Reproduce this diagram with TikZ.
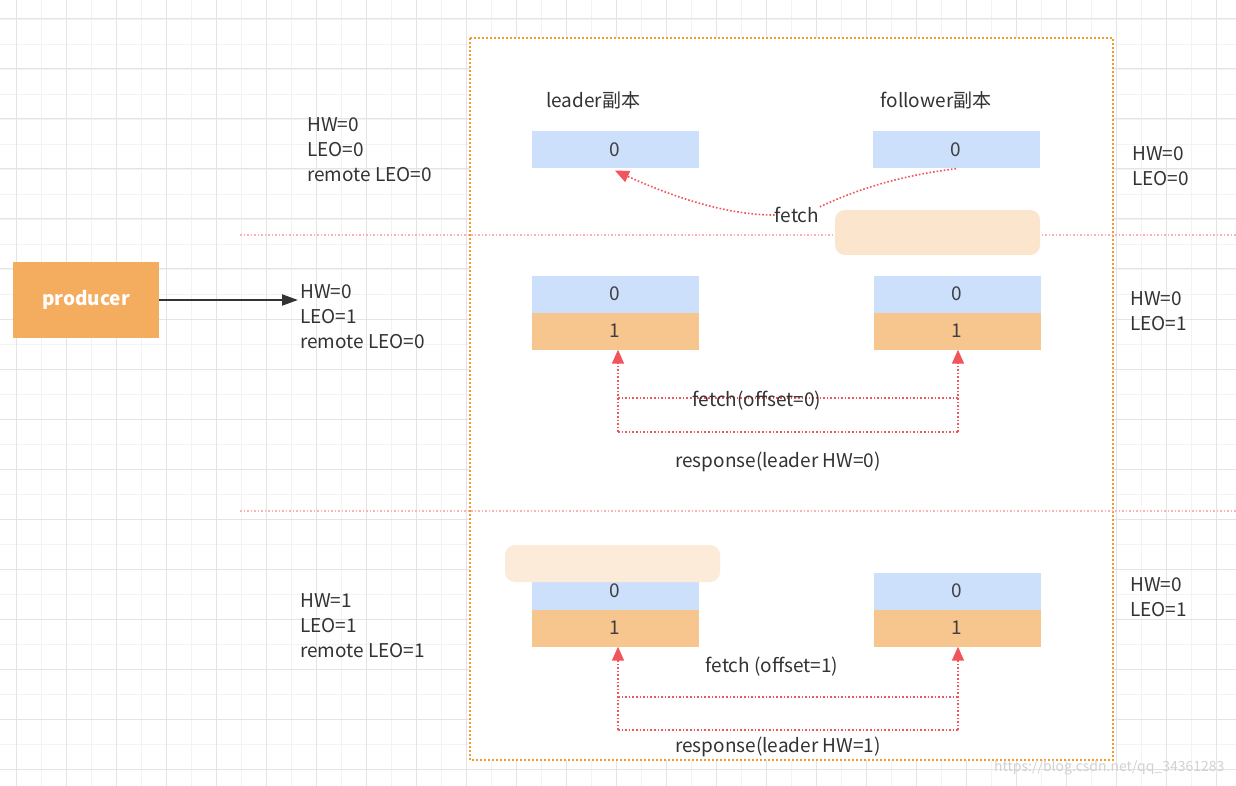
\documentclass[tikz,border=0pt]{standalone}
\usepackage{fontspec}
\setmainfont{Noto Sans CJK SC}
\usetikzlibrary{positioning, arrows.meta, calc}
\definecolor{cellblue}{HTML}{CCE0FB}
\definecolor{cellorange}{HTML}{F7C68F}
\definecolor{prodorange}{HTML}{F4AC5F}
\definecolor{linkred}{HTML}{F2545B}
\definecolor{boxorange}{HTML}{F39A2B}
\definecolor{gridgray}{HTML}{E4E4E4}
\tikzset{
  Link/.style = {linkred, line width=1.6pt, dotted, -{Triangle[length=14pt, width=12pt]}},
  Plain/.style = {linkred, line width=1.6pt, dotted},
  txt/.style = {font=\fontsize{19}{25}\selectfont, text=black!80, inner sep=0pt, anchor=west, align=left},
}
\begin{document}
\begin{tikzpicture}[x=1pt, y=-1pt,
    cell/.style = {minimum width=167pt, minimum height=37pt, inner sep=0pt, font=\fontsize{19}{19}\selectfont, text=black!75},
    blue cell/.style = {cell, fill=cellblue},
    orange cell/.style = {cell, fill=cellorange},
  ]
  \useasboundingbox (0,0) rectangle (1236,786);
  % background grid
  \foreach \x in {16,41,...,1236} \draw[gridgray!45, line width=0.6pt] (\x,0) -- (\x,786);
  \foreach \y in {19,44,...,786} \draw[gridgray!45, line width=0.6pt] (0,\y) -- (1236,\y);
  \foreach \x in {16,66,...,1236} \draw[gridgray, line width=1pt] (\x,0) -- (\x,786);
  \foreach \y in {19,69,...,786} \draw[gridgray, line width=1pt] (0,\y) -- (1236,\y);
  \fill[white] (470,38) rectangle (1113,760);
  \draw[boxorange, line width=2pt, dotted] (470,38) rectangle (1113,760);
  % separators
  \draw[linkred!45, line width=1.5pt, dotted] (240,235) -- (1236,235);
  \draw[linkred!45, line width=1.5pt, dotted] (240,511) -- (1236,511);

  % producer
  \node[fill=prodorange, minimum width=146pt, minimum height=76pt, text=white, font=\fontsize{19}{19}\selectfont\bfseries] (producer) at (86,300) {producer};
  \coordinate (hw2) at (298,300);
  \draw[black!80, line width=2pt, -{Triangle[length=16pt, width=11pt]}] (producer) -- (hw2);

  % titles
  \node[txt, anchor=center] (leadtitle) at (593,100) {leader副本};
  \node[txt, anchor=center] (followtitle) at (936,100) {follower副本};

  % replica cells
  \node[blue cell] (l1) at (615,150) {0};
  \node[blue cell] (f1) at (956,150) {0};
  \node[blue cell] (l2a) at (615,294) {0};
  \node[orange cell] (l2b) at (615,331) {1};
  \node[blue cell] (f2a) at (957,294) {0};
  \node[orange cell] (f2b) at (957,331) {1};
  \node[blue cell] (l3a) at (615,591) {0};
  \node[orange cell] (l3b) at (615,628) {1};
  \node[blue cell] (f3a) at (957,591) {0};
  \node[orange cell] (f3b) at (957,628) {1};

  % blurred patches
  \fill[cellorange!45, rounded corners=10pt] (835,210) rectangle (1040,255);
  \fill[cellorange!35, rounded corners=10pt] (505,545) rectangle (720,582);

  % state labels
  \node[txt] (s1) at (307,150) {HW=0\\LEO=0\\remote LEO=0};
  \node[txt] (s2) at (300,317) {HW=0\\LEO=1\\remote LEO=0};
  \node[txt] (s3) at (300,626) {HW=1\\LEO=1\\remote LEO=1};
  \node[txt] (r1) at (1132,166) {HW=0\\LEO=0};
  \node[txt] (r2) at (1130,311) {HW=0\\LEO=1};
  \node[txt] (r3) at (1130,597) {HW=0\\LEO=1};

  % first fetch
  \node[txt, anchor=center] (fetch1) at (797,215) {fetch};
  \draw[Plain] (f1.south) .. controls (880,178) and (835,200) .. (fetch1.north east);
  \draw[Link] (fetch1.west) .. controls (730,215) and (680,200) .. ($(l1.south)+(0,2)$);

  % second round
  \coordinate (a2l) at (618,432);
  \coordinate (a2r) at (958,432);
  \draw[Link] (a2l) -- (l2b.south -| a2l);
  \draw[Link] (a2r) -- (f2b.south -| a2r);
  \draw[Plain] (a2l |- 0,398) -- (a2r |- 0,398);
  \draw[Plain] (a2l) -- (a2r);
  \node[txt, anchor=center] (fetch2) at (757,401) {fetch(offset=0)};
  \node[txt, anchor=center] (resp2) at (778,462) {response(leader HW=0)};

  % third round
  \coordinate (a3l) at (618,730);
  \coordinate (a3r) at (958,730);
  \draw[Link] (a3l) -- (l3b.south -| a3l);
  \draw[Link] (a3r) -- (f3b.south -| a3r);
  \draw[Plain] (a3l |- 0,697) -- (a3r |- 0,697);
  \draw[Plain] (a3l) -- (a3r);
  \node[txt, anchor=center] (fetch3) at (772,667) {fetch (offset=1)};
  \node[txt, anchor=center] (resp3) at (778,747) {response(leader HW=1)};

  \node[text=black!18, font=\fontsize{14}{14}\selectfont, anchor=east] (mark) at (1228,768) {https://blog.csdn.net/qq\_34361283};
\end{tikzpicture}
\end{document}
